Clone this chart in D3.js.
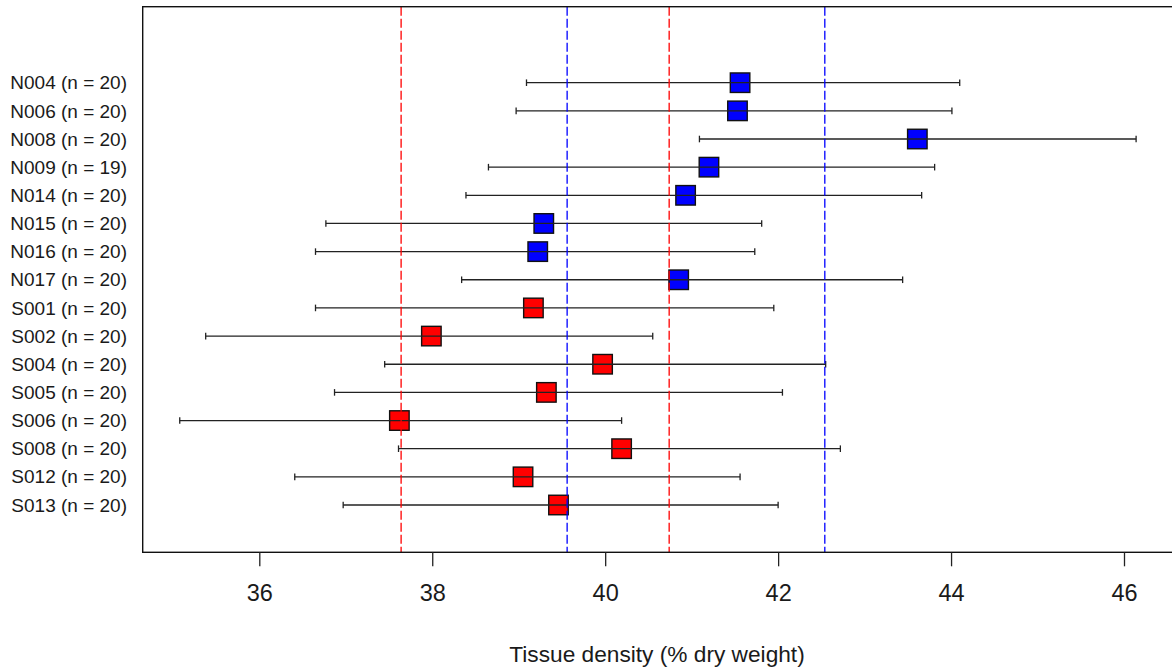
<!DOCTYPE html>
<html>
<head>
<meta charset="utf-8">
<script src="https://cdn.jsdelivr.net/npm/d3@7"></script>
<style>
  html, body { margin: 0; padding: 0; background: #fff; }
  svg { display: block; }
  text { font-family: "Liberation Sans", Arial, sans-serif; fill: #1a1a1a; }
</style>
</head>
<body>
<svg id="chart" width="1172" height="670"></svg>
<script>
// Sampling sites, top to bottom
const sites = ["N004","N006","N008","N009","N014","N015","N016","N017",
               "S001","S002","S004","S005","S006","S008","S012","S013"];
const sampleSizes = [20,20,20,19,20,20,20,20,20,20,20,20,20,20,20,20];

// Tissue density (% dry weight): site mean and interval ends
const means = [41.56,41.53,43.61,41.20,40.93,39.29,39.22,40.85,
               39.17,37.99,39.97,39.32,37.62,40.19,39.05,39.46];
const lower = [39.09,38.97,41.09,38.65,38.39,36.77,36.65,38.34,
               36.65,35.38,37.45,36.87,35.08,37.61,36.41,36.97];
const upper = [44.10,44.01,46.14,43.81,43.66,41.81,41.73,43.44,
               41.95,40.55,42.55,42.05,40.19,42.72,41.56,42.00];

// Region reference bands (dashed lines)
const southBand = [37.64, 40.74];
const northBand = [39.56, 42.54];

const xTicks = [36, 38, 40, 42, 44, 46];
const xTitle = "Tissue density (% dry weight)";

const regionColor = { N: "#0000ff", S: "#ff0000" };

const svg = d3.select("#chart");

const frame = { left: 142.7, right: 1200, top: 6.7, bottom: 552.3 };

const x = d3.scaleLinear().domain([36, 46]).range([259.3, 1124]);
const y = d3.scaleLinear().domain([0, sites.length - 1]).range([82.7, 505]);

const rows = sites.map((s, i) => ({
  site: s, n: sampleSizes[i], mean: means[i], lo: lower[i], hi: upper[i],
  region: s[0], i
}));

// Squares at the means
const sq = 19.5;
svg.append("g").selectAll("rect")
  .data(rows).join("rect")
  .attr("x", d => x(d.mean) - sq / 2)
  .attr("y", d => y(d.i) - sq / 2)
  .attr("width", sq).attr("height", sq)
  .attr("fill", d => regionColor[d.region])
  .attr("stroke", "#111").attr("stroke-width", 1.4);

// Interval bars with end caps
const bars = svg.append("g").attr("stroke", "#222").attr("stroke-width", 1.3);
bars.selectAll("line.h").data(rows).join("line").attr("class", "h")
  .attr("x1", d => x(d.lo)).attr("x2", d => x(d.hi))
  .attr("y1", d => y(d.i)).attr("y2", d => y(d.i));
bars.selectAll("line.cl").data(rows).join("line").attr("class", "cl")
  .attr("x1", d => x(d.lo)).attr("x2", d => x(d.lo))
  .attr("y1", d => y(d.i) - 3.3).attr("y2", d => y(d.i) + 3.3);
bars.selectAll("line.ch").data(rows).join("line").attr("class", "ch")
  .attr("x1", d => x(d.hi)).attr("x2", d => x(d.hi))
  .attr("y1", d => y(d.i) - 3.3).attr("y2", d => y(d.i) + 3.3);

// Dashed region reference lines
const refs = southBand.map(v => ({ v, c: regionColor.S }))
  .concat(northBand.map(v => ({ v, c: regionColor.N })));
svg.append("g").selectAll("line").data(refs).join("line")
  .attr("x1", d => x(d.v)).attr("x2", d => x(d.v))
  .attr("y1", frame.top).attr("y2", frame.bottom)
  .attr("stroke", d => d.c).attr("stroke-width", 1.3)
  .attr("stroke-dasharray", "9,3");

// Plot frame
svg.append("rect")
  .attr("x", frame.left).attr("y", frame.top)
  .attr("width", frame.right - frame.left).attr("height", frame.bottom - frame.top)
  .attr("fill", "none").attr("stroke", "#111").attr("stroke-width", 1.4);

// Bottom axis
const xAxis = d3.axisBottom(x).tickValues(xTicks).tickSize(14).tickPadding(18)
  .tickFormat(d3.format("d"));
const ax = svg.append("g").attr("transform", `translate(0,${frame.bottom})`).call(xAxis);
ax.select(".domain").remove();
ax.selectAll(".tick line").attr("stroke", "#222").attr("stroke-width", 1.3);
ax.selectAll(".tick text")
  .style("font-family", '"Liberation Sans", Arial, sans-serif')
  .style("font-size", "23.5px").attr("fill", "#1a1a1a");

// Row labels
svg.append("g").selectAll("text").data(rows).join("text")
  .attr("x", 127).attr("y", d => y(d.i)).attr("dy", "0.35em")
  .attr("text-anchor", "end").style("font-size", "19px")
  .text(d => `${d.site} (n = ${d.n})`);

// Axis title
svg.append("text")
  .attr("x", 657).attr("y", 661.5).attr("text-anchor", "middle")
  .style("font-size", "22.7px").text(xTitle);
</script>
</body>
</html>
